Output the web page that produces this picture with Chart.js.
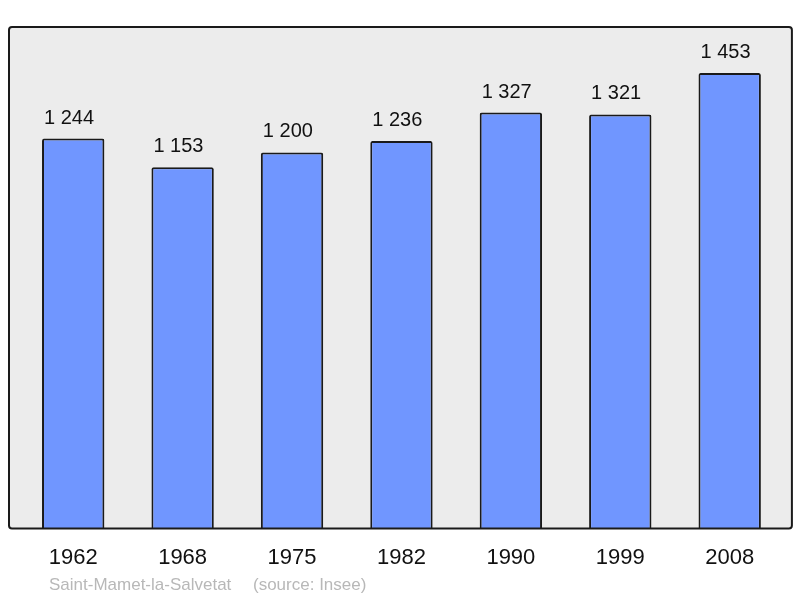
<!DOCTYPE html>
<html>
<head>
<meta charset="utf-8">
<script src="https://cdn.jsdelivr.net/npm/chart.js@4/dist/chart.umd.min.js"></script>
<style>
html,body{margin:0;padding:0;background:#fff;}
#wrap{width:800px;height:598px;}
</style>
</head>
<body>
<div id="wrap"><canvas id="c" width="800" height="598"></canvas></div>
<script>
const years = ["1962", "1968", "1975", "1982", "1990", "1999", "2008"];
const population = [1244, 1153, 1200, 1236, 1327, 1321, 1453];
const yMin = 0;
const yMax = 1600;
const footerName = "Saint-Mamet-la-Salvetat";
const footerSource = "(source: Insee)";

function fmt(v) {
  return String(v).replace(/\B(?=(\d{3})+(?!\d))/g, " ");
}

const framePlugin = {
  id: "frame",
  beforeDraw(chart) {
    const ctx = chart.ctx, a = chart.chartArea;
    const l = a.left - 9.5, r = a.right + 7.5, t = a.top, b = a.bottom;
    ctx.save();
    ctx.beginPath();
    ctx.roundRect(l, t, r - l, b - t, 3);
    ctx.fillStyle = "#ececec";
    ctx.fill();
    ctx.restore();
  },
  afterDatasetsDraw(chart) {
    const ctx = chart.ctx, a = chart.chartArea;
    const l = a.left - 9.5, r = a.right + 7.5, t = a.top, b = a.bottom;
    ctx.save();
    ctx.beginPath();
    ctx.roundRect(l, t, r - l, b - t, 3);
    ctx.lineWidth = 2;
    ctx.strokeStyle = "#1a1a1a";
    ctx.stroke();
    // value labels (left-aligned near each bar's left edge)
    const meta = chart.getDatasetMeta(0);
    ctx.fillStyle = "#111";
    ctx.font = "20px 'Liberation Sans', Arial, sans-serif";
    ctx.textAlign = "left";
    ctx.textBaseline = "alphabetic";
    meta.data.forEach((el, i) => {
      ctx.fillText(fmt(chart.data.datasets[0].data[i]), el.x - el.width / 2 + 2, el.y - 15);
    });
    // footer
    ctx.fillStyle = "#b8b8b8";
    ctx.font = "17px 'Liberation Sans', Arial, sans-serif";
    ctx.textAlign = "left";
    ctx.fillText(footerName, l + 40, 590);
    ctx.fillText(footerSource, l + 244, 590);
    ctx.restore();
  }
};

new Chart(document.getElementById("c"), {
  type: "bar",
  data: {
    labels: years,
    datasets: [{
      data: population,
      backgroundColor: "#7096ff",
      borderColor: "#1a1a1a",
      borderWidth: 2,
      borderRadius: 2,
      borderSkipped: "bottom",
      categoryPercentage: 0.57,
      barPercentage: 1.0
    }]
  },
  options: {
    responsive: false,
    animation: false,
    devicePixelRatio: 1,
    layout: { padding: { left: 18.5, right: 15.6, top: 27, bottom: 11 } },
    plugins: { legend: { display: false }, tooltip: { enabled: false }, title: { display: false } },
    scales: {
      x: {
        grid: { display: false, drawTicks: false, tickLength: 0 },
        border: { display: false },
        ticks: {
          color: "#111",
          font: { family: "'Liberation Sans', Arial, sans-serif", size: 22 },
          padding: 16,
          maxRotation: 0
        }
      },
      y: {
        display: false,
        min: yMin,
        max: yMax
      }
    }
  },
  plugins: [framePlugin]
});
</script>
</body>
</html>
